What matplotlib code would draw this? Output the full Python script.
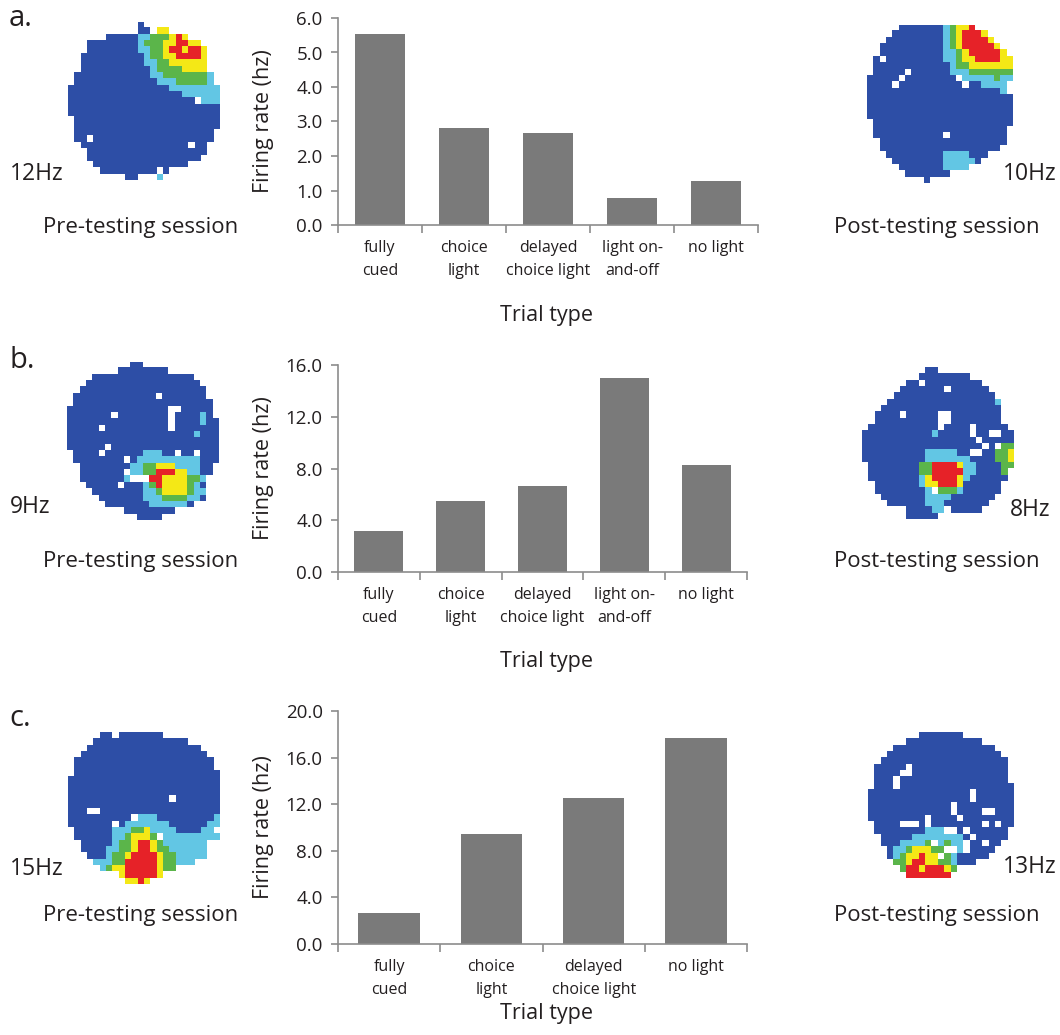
"""Place-cell firing rates by trial type, with pre/post testing rate maps."""
import numpy as np
import matplotlib
matplotlib.use("Agg")
import matplotlib.pyplot as plt
from matplotlib.colors import ListedColormap

W, H = 1060, 1035
plt.rcParams["font.family"] = ["Open Sans", "DejaVu Sans"]
INK = "#231f20"
BAR = "#7a7a7a"
AXIS = "#8c8c8c"

# bar chart data
trials_5 = ["fully\ncued", "choice\nlight", "delayed\nchoice light", "light on-\nand-off", "no light"]
trials_4 = ["fully\ncued", "choice\nlight", "delayed\nchoice light", "no light"]
rate_a = [5.53, 2.81, 2.68, 0.77, 1.28]
rate_b = [3.19, 5.50, 6.64, 14.97, 8.28]
rate_c = [2.68, 9.44, 12.55, 17.69]
yticks_a = [0, 1, 2, 3, 4, 5, 6]
yticks_b = [0, 4, 8, 12, 16]
yticks_c = [0, 4, 8, 12, 16, 20]
peak_pre = ["12Hz", "9Hz", "15Hz"]
peak_post = ["10Hz", "8Hz", "13Hz"]

# rate maps: b=blue (low) c=cyan g=green y=yellow r=red (peak) .=unvisited
pre_a = [
    "...........b",
    "...........bb.yy",
    "......bbbbbccgggyry",
    "...bbbbbbbbcgggyyrryy",
    "...bbbbbbbbccggyrryrry",
    "..bbbbbbbbbbcggyyrrrry.",
    "..bbbbbbbbbbccggyyyyyy.",
    "..bbbbbbbbbbbcggggyyyy.",
    ".bbbbbbbbbbbbccgggggggc",
    ".bbbbbbbbbbbbbcccgggggc",
    "bbbbbbbbbbbbbbbbcccccccc",
    "bbbbbbbbbbbbbbbbbbcccccc",
    "bbbbbbbbbbbbbbbbbbbb.ccc",
    "bbbbbbbbbbbbbbbbbbbbbbbb",
    "bbbbbbbbbbbbbbbbbbbbbbbb",
    ".bbbbbbbbbbbbbbbbbbbbbbb",
    ".bbbbbbbbbbbbbbbbbbbbbbb",
    ".bbbbbbbbbbbbbbbbbbbbbb",
    ".bb.bbbbbbbbbbbbbbbbbbb",
    "..bbbbbbbbbbbbbbbbb.bb",
    "...bbbbbbbbbbbbbbbbbbb",
    "...bbbbbbbbbbbbbbbbbb",
    "....bbbbbbbbbbbbbbb",
    ".....bbbbbbbbb.b",
    ".........bb...c",
]
post_a = [
    ".....bbbbbbbcgyyr",
    "....bbbbbbbbcgyrrry",
    "...bbbbbbbbbcgyrrrry",
    "..bbbbbbbbbbcgyrrrrry",
    "..bbbbbbbbbbccgyrrrrry",
    ".b.bbbbbbbbbccgyyrrrryy",
    ".bbbbbbbbbbbbcggyyyyyyy",
    ".bbbbb.bbbbbbcccggggggg",
    "bbbbb.bbbbbbbb.cccccgcc",
    "bbbb.bbbbbbbbbb.bbcccc",
    "bbbbbbbbbbbbbbbbbbbbbc",
    "bbbbbbbbbbbbbbbbbbbbbbb",
    "bbbbbbbbbbbbbbbbbbbbbbb",
    "bbbbbbbbbbbbbbbbbbbbbbb",
    "bbbbbbbbbbbbbbbbbbbbbbb",
    ".bbbbbbbbbbbbbbbbbbbbbb",
    ".bbbbbbbbbbbbbbbbbbbbb",
    ".bbbbbbbbbbb.bbbbbbbbb",
    "..bbbbbbbbbbbbbbbbbbbb",
    "..bbbbbbbbbbbbbbbbbbb",
    "...bbbbbbbbbccccbbb",
    "....bbbbbbbbcccccb",
    ".....bbbbbbbcccc",
    "......bbbbbbb",
    ".........b",
]
pre_b = [
    "..........bb",
    "........bbbbbbbb",
    "....bbbbbbbbbbbbbbbb",
    "...bbbbbbbbbbbbbbbbbb",
    "..bbbbbbbbbbbbbbbbbbbb",
    ".bbbbbbbbbbbbb.bbbbbbb",
    ".bbbbbbbbbbbbbbbbbbbbbb",
    "bbbbbbbbbbbbbbbb..bbbbb",
    "bbbbbbb.bbbbbbbb.bbbbcb",
    "bbbbbbbbbbbbbbbb.bbbbcbb",
    "bbbbb.bbbbbbbbbb.bbbbbbb",
    "bbbbbbbbbbbbbbbbbbbbcbbb",
    "bbbbbbbbbbbbbbbbbbbbbbbb",
    "bbbbbb.bbbbbbbbbbbbbbbbb",
    ".bbbb.bbbbbbcccbb.bb.bbb",
    ".bbbbbbbb.bccccccccccbbb",
    "..bbbbbbbbccggyyyccccbb",
    "..bbbbbbb.ccggrrryyccbb",
    "..bbbbbbbc...rryyyyggc",
    "...bbbbb.bbbcgryyyygcb",
    "....bbbbbbbbccgyyyygcc",
    ".....bbbbbbbcccggggccb",
    "......bbbbbbbccccccb",
    ".........bbbbbbbb",
    "...........bbbb",
]
post_b = [
    "..........bb",
    ".........bbbbbbbb",
    ".......bb.bbbbbbbbb",
    "......bbbbbbb.bbbbbb",
    ".....bbbbbbbbbbbbbbbb",
    "....bbbbbbbbbbbbbbbbbc",
    "...bbbbbbbbbbbbbbbbbbb",
    "..bbbb.bbbbb..bbbbbbbb",
    "..bbbbbbbbbb..bbbbbbbb",
    ".bbbbbbbbbbb.bbbb.bbbbb",
    "bbbbbbbbbbbcbbbbb.bb..bb",
    "bbbbbbbbbbbbbbbbbb.bbbbb",
    "bbbbbbbbbbbbbbbbbbb.b.gg",
    "bbbbbbbbbbcccccbb..bbggy",
    "bbbbbbbbbbcccccccbbbbggy",
    ".bbbbbbbbggrrrryccbbbbgg",
    ".bbbbbbbbggrrrrrccbbbbg",
    ".bbbbbbbbcyrrrrycbbbbbb",
    "..bbbbbbbcyyrrrybbbbbb",
    "..bbbbbbbbc.gggcbbbbbb",
    "...bbbbbbbccccbbbbbbb",
    "....bbbbbbcccbbbbbbb",
    ".......bbbbcc.bbbbb",
    ".......bbbbb",
]
pre_c = [
    ".....bb.bbbbbbb",
    "....bbbbbbbbbbbbbbb",
    "...bbbbbbbbbbbbbbbbbb",
    "..bbbbbbbbbbbbbbbbbbbb",
    ".bbbbbbbbbbbbbbbbbbbbbb",
    ".bbbbbbbbbbbbbbbbbbbbbb",
    ".bbbbbbbbbbbbbbbbbbbbbbb",
    "bbbbbbbbbbbbbbbbbbbbbbbb",
    "bbbbbbbbbbbbbbbbbbbbbbbb",
    "bbbbbbbbbbbbbbbbbbbbbbbb",
    "bbbbbbbbbbbbbbbb.bbbbbbb",
    "bbbbbbbbbbbbbbbbbbbbbbbb",
    "bbb..bbbbbbbbbbbbbbbbbbb",
    "bbbbbbbbbb.cccbbbbbbbbbc",
    "bbbbbbb.bcccccccbbbbbbcc",
    ".bbbbbbcccggyccccbbbbcc",
    ".bbbbbbccgyyyg.ccccccccc",
    "..bbbbbcggyrrygccccccc",
    "..bbbbccggyrryggcccccc",
    "...bbbcggyrrrryggccccc",
    "....cccggrrrrryggccc",
    ".....cgyyrrrrrygg",
    "........yrrrrry",
    ".........yyry",
]
post_c = [
    "........bbbbbbb",
    "......bbbbbbbbbbbb",
    "....bbbbbbbbbbbbbbbb",
    "...bbbbbbbbbbbbbbbbbb",
    "..bbbbbbbbbbbbbbbbbbbb",
    ".bbbbb.bbbbbbbbbbbbbbb",
    ".bbbb..bbbbbbbbbbbbbbb",
    ".bbb.bbbbbbbbbbbbbbbbb",
    ".bbb.bbbbbbbbbbbbbbbbbb",
    "bbbbbbbbbbbbbbbb.bbbbbb",
    "bbbbbbbbbbbbbbbb.bbbbbb",
    "bbbbbbbbbbbbb.bbbbbbbbb",
    "bbbbbbbbbbbbb.bbbb..bbb",
    "bbbbbbbbb.bbbb.bbbbbbbb",
    ".bbbb...b.bbbbbbbb.b.bb",
    ".bbbbbbbbccc..b.bbbbbb",
    "..bbbbbccccccccb.bbbbb",
    "..bbbccccg.cgcc.bb.bb",
    "...bccgyyygg..c.bbbb",
    "...bcgyyryy.gcbbbbb",
    "....ggyrryyggcbbb",
    ".....grryrrryg",
    "......rrrrrrr",
]

LEVEL = {"b": 0, "c": 1, "g": 2, "y": 3, "r": 4}
rate_cmap = ListedColormap(["#2d4ea6", "#62c6e4", "#5bb54a", "#f4e816", "#e62228"])
BIN = 6.33  # pixels per map bin


def px_axes(fig, x0, y0, x1, y1):
    return fig.add_axes([x0 / W, 1 - y1 / H, (x1 - x0) / W, (y1 - y0) / H])


def draw_map(fig, rows, x0, y0):
    ncol = max(len(r) for r in rows)
    grid = np.full((len(rows), ncol), np.nan)
    for i, row in enumerate(rows):
        for j, ch in enumerate(row):
            if ch in LEVEL:
                grid[i, j] = LEVEL[ch]
    ax = px_axes(fig, x0, y0, x0 + ncol * BIN, y0 + len(rows) * BIN)
    ax.imshow(np.ma.masked_invalid(grid), cmap=rate_cmap, vmin=-0.5, vmax=4.5,
              interpolation="nearest", aspect="auto")
    ax.axis("off")


def bar_panel(fig, box, labels, values, yticks):
    ax = px_axes(fig, *box)
    x = np.arange(len(values))
    ax.bar(x, values, width=0.6, color=BAR)
    ax.set_xlim(-0.5, len(values) - 0.5)
    ax.set_ylim(0, yticks[-1])
    ax.set_yticks(yticks)
    ax.set_yticklabels([f"{v:.1f}" for v in yticks])
    ax.set_xticks(x)
    ax.set_xticklabels(labels, fontsize=11.5, color=INK, linespacing=1.6)
    ax.set_xticks(np.arange(len(values) + 1) - 0.5, minor=True)
    ax.tick_params(axis="x", which="major", length=0, pad=11)
    ax.tick_params(axis="x", which="minor", length=6, width=1.2, color=AXIS)
    ax.tick_params(axis="y", length=5, width=1.2, color=AXIS, labelsize=13.5,
                   labelcolor=INK, pad=6)
    for s in ["top", "right"]:
        ax.spines[s].set_visible(False)
    for s in ["left", "bottom"]:
        ax.spines[s].set_color(AXIS)
        ax.spines[s].set_linewidth(1.2)
    return ax


def ftext(fig, x, y, s, **kw):
    kw.setdefault("color", INK)
    fig.text(x / W, 1 - y / H, s, **kw)


fig = plt.figure(figsize=(W / 100, H / 100), dpi=100)

boxes = [(338, 18, 758, 225), (338, 365, 747, 572), (338, 711, 747, 944)]
panel_labels = ["a.", "b.", "c."]
label_y = [18, 360, 718]
trial_y = [316, 662, 1013]
session_y = [227, 561, 916]
pre_maps = [(pre_a, 68, 22), (pre_b, 67, 362), (pre_c, 68, 732)]
post_maps = [(post_a, 867, 25), (post_b, 862, 367), (post_c, 868, 732)]
pre_hz_y = [174, 507, 869]
post_hz_y = [174, 510, 867]
post_hz_x = [1057, 1050, 1057]

bar_panel(fig, boxes[0], trials_5, rate_a, yticks_a)
bar_panel(fig, boxes[1], trials_5, rate_b, yticks_b)
bar_panel(fig, boxes[2], trials_4, rate_c, yticks_c)

for i in range(3):
    x0, y0, x1, y1 = boxes[i]
    ftext(fig, 264, (y0 + y1) / 2, "Firing rate (hz)", rotation=90,
          ha="center", va="center", fontsize=15.5)
    ftext(fig, 547, trial_y[i], "Trial type", ha="center", va="center", fontsize=15.5)
    ftext(fig, 9, label_y[i], panel_labels[i], ha="left", va="center", fontsize=21)

    draw_map(fig, *pre_maps[i])
    draw_map(fig, *post_maps[i])
    ftext(fig, 10, pre_hz_y[i], peak_pre[i], ha="left", va="center", fontsize=16.5)
    ftext(fig, post_hz_x[i], post_hz_y[i], peak_post[i], ha="right", va="center", fontsize=16.5)
    ftext(fig, 141, session_y[i], "Pre-testing session", ha="center", va="center", fontsize=16)
    ftext(fig, 937, session_y[i], "Post-testing session", ha="center", va="center", fontsize=16)

fig.savefig("out.png", dpi=100, facecolor="white")
